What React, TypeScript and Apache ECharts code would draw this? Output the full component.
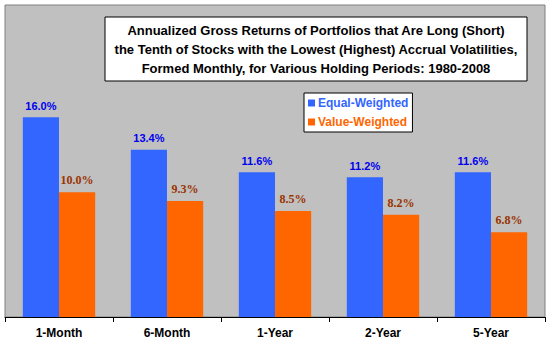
import React, { useEffect, useRef } from "react";
import * as echarts from "echarts";

const categories = ["1-Month", "6-Month", "1-Year", "2-Year", "5-Year"];
const seriesNames = ["Equal-Weighted", "Value-Weighted"];
const equalWeighted = [16.0, 13.4, 11.6, 11.2, 11.6];
const valueWeighted = [10.0, 9.3, 8.5, 8.2, 6.8];
const titleLines = [
  "Annualized Gross Returns of Portfolios that Are Long (Short)",
  "the Tenth of Stocks with the Lowest (Highest) Accrual Volatilities,",
  "Formed Monthly, for Various Holding Periods: 1980-2008",
];

const SANS = "Arial, 'Liberation Sans', sans-serif";
const SERIF = "'Times New Roman', 'Liberation Serif', serif";

export default function App() {
  const ref = useRef<HTMLDivElement>(null);
  useEffect(() => {
    if (!ref.current) return;
    const chart = echarts.init(ref.current, undefined, { renderer: "svg" });
    chart.setOption({
      animation: false,
      backgroundColor: "#FFFFFF",
      grid: {
        left: 5,
        right: 5,
        top: 5,
        bottom: 33,
        show: true,
        backgroundColor: "#C0C0C0",
        borderColor: "#808080",
        borderWidth: 1,
        containLabel: false,
      },
      legend: {
        orient: "vertical",
        left: 304,
        top: 93,
        padding: [3, 4],
        itemGap: 5,
        itemWidth: 7,
        itemHeight: 7,
        icon: "rect",
        backgroundColor: "#FFFFFF",
        borderColor: "#000000",
        borderWidth: 1,
        borderRadius: 0,
        textStyle: { fontFamily: SANS, fontWeight: "bold", fontSize: 12, lineHeight: 14, padding: [0, 0, 0, -2] },
        data: [
          { name: seriesNames[0], textStyle: { color: "#3366FF" } },
          { name: seriesNames[1], textStyle: { color: "#FF6600" } },
        ],
      },
      xAxis: {
        type: "category",
        data: categories,
        axisLine: { lineStyle: { color: "#000000", width: 1 } },
        axisTick: { show: true, length: 5, lineStyle: { color: "#000000" } },
        axisLabel: {
          color: "#000000",
          fontFamily: SANS,
          fontWeight: "bold",
          fontSize: 12,
          margin: 10,
        },
        splitLine: { show: false },
      },
      yAxis: {
        type: "value",
        min: 0,
        max: 25,
        show: false,
        splitLine: { show: false },
      },
      series: [
        {
          name: seriesNames[0],
          type: "bar",
          data: equalWeighted,
          barGap: "0%",
          barCategoryGap: "33%",
          itemStyle: { color: "#3366FF" },
          label: {
            show: true,
            position: "top",
            distance: 6,
            color: "#0000EE",
            fontFamily: SANS,
            fontWeight: "bold",
            fontSize: 11,
            formatter: (p: any) => Number(p.value).toFixed(1) + "%",
          },
        },
        {
          name: seriesNames[1],
          type: "bar",
          data: valueWeighted,
          barGap: "0%",
          barCategoryGap: "33%",
          itemStyle: { color: "#FF6600" },
          label: {
            show: true,
            position: "top",
            distance: 6,
            color: "#993300",
            fontFamily: SERIF,
            fontWeight: "bold",
            fontSize: 12,
            formatter: (p: any) => Number(p.value).toFixed(1) + "%",
          },
        },
      ],
      graphic: [
        {
          type: "rect",
          shape: { x: 105, y: 17, width: 422, height: 64 },
          style: { fill: "#FFFFFF", stroke: "#000000", lineWidth: 1 },
          z: 10,
        },
        {
          type: "text",
          x: 316,
          y: 49,
          z: 11,
          style: {
            text: titleLines.join("\n"),
            align: "center",
            verticalAlign: "middle",
            fontFamily: SANS,
            fontWeight: "bold",
            fontSize: 13,
            lineHeight: 19,
            fill: "#000000",
          },
        },
      ],
    });
    return () => chart.dispose();
  }, []);
  return (
    <div
      ref={ref}
      style={{ position: "fixed", left: 0, top: 0, width: 550, height: 350 }}
    />
  );
}
